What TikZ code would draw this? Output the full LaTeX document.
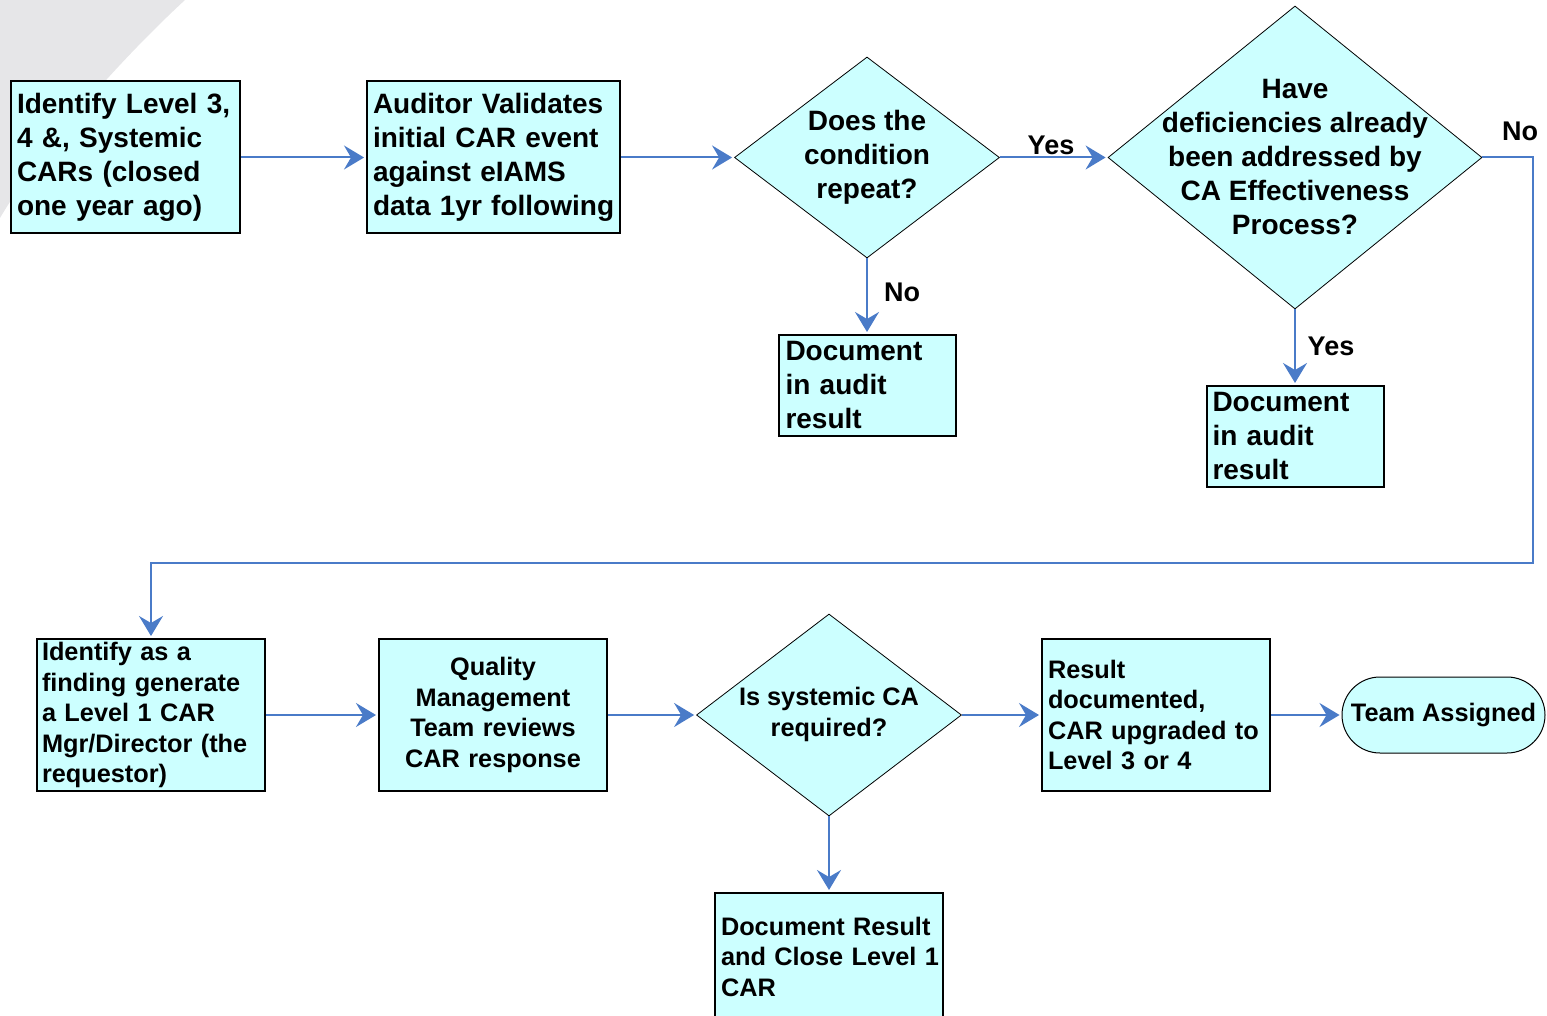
\documentclass[tikz,border=0pt]{standalone}
\usepackage{fontspec}
\setmainfont{Liberation Sans}
\usetikzlibrary{shapes.geometric,arrows.meta}
\definecolor{cyanfill}{RGB}{204,255,255}
\definecolor{linkblue}{RGB}{74,123,200}
\definecolor{bggrey}{RGB}{230,230,232}
\begin{document}
\begin{tikzpicture}[x=1pt,y=-1pt,
  box/.style={draw=black, line width=2pt, fill=cyanfill, inner xsep=6pt, inner ysep=0pt, align=left,
    execute at begin node={\hyphenpenalty=10000\exhyphenpenalty=10000\hbadness=10000\hfuzz=20pt\relax}},
  dia/.style={draw=black, line width=0.8pt, fill=cyanfill, shape=diamond, inner sep=0pt},
  bigtxt/.style={font=\fontsize{28}{34}\selectfont\bfseries},
  smalltxt/.style={font=\fontsize{25.3}{30.5}\selectfont\bfseries},
  lbl/.style={font=\fontsize{27}{32}\selectfont\bfseries, inner sep=0pt},
  arr/.style={draw=linkblue, line width=2pt, -{Stealth[length=20pt,width=24pt,inset=7pt]}, shorten >=2pt}]

\useasboundingbox (0,0) rectangle (1547,1016);
\clip (0,0) rectangle (1547,1016);
\fill[bggrey] (0,0) -- (185,0) .. controls (120,60) and (40,150) .. (0,218) -- cycle;

% top row
\node[box,bigtxt,text width=217pt,minimum height=152pt] (a) at (125.5,157.5)
  {Identify~Level~3,\\4~\&,~Systemic\\CARs~(closed\\one~year~ago)};
\node[box,bigtxt,text width=241pt,minimum height=152pt] (b) at (493.5,157.5)
  {\mbox{Auditor Validates}\\\mbox{initial CAR event}\\\mbox{against eIAMS}\\\mbox{data 1yr following}};
\node[dia,minimum width=265pt,minimum height=201pt] (d1) at (867,157.5) {};
\node[bigtxt,align=center] (d1t) at (867,157) {Does the\\condition\\repeat?};
\node[dia,minimum width=374pt,minimum height=303pt] (d2) at (1295,157.5) {};
\node[bigtxt,align=center] (d2t) at (1295,157) {Have\\deficiencies already\\been addressed by\\CA Effectiveness\\Process?};
\node[box,bigtxt,inner xsep=7pt,text width=163pt,minimum height=101pt] (doc1) at (867,385.5)
  {Document\\in~audit\\result};
\node[box,bigtxt,inner xsep=6pt,text width=165pt,minimum height=101pt] (doc2) at (1295,436.5)
  {Document\\in~audit\\result};

% bottom row
\node[box,smalltxt,inner xsep=5pt,text width=218pt,minimum height=152pt] (c1) at (151,715)
  {Identify~as~a\\finding~generate\\a~Level~1~CAR\\Mgr/Director~(the\\requestor)};
\node[box,smalltxt,align=center,text width=216pt,minimum height=152pt] (q) at (493,715)
  {Quality\\Management\\Team~reviews\\CAR~response};
\node[dia,minimum width=265pt,minimum height=202pt] (d3) at (829,715) {};
\node[smalltxt,align=center] (d3t) at (829,714.5) {Is systemic CA\\required?};
\node[box,smalltxt,text width=216pt,minimum height=152pt] (r) at (1156,715)
  {Result\\documented,\\CAR~upgraded~to\\Level~3~or~4};
\node[draw=black,line width=1pt,fill=cyanfill,rounded corners=38pt,minimum width=203pt,minimum height=76pt,inner sep=0pt,smalltxt] (t) at (1443.5,715) {Team Assigned};
\node[box,smalltxt,text width=216pt,minimum height=127pt] (doc3) at (829,956.5)
  {Document~Result\\and~Close~Level~1\\CAR};

% connectors
\draw[arr] (a) -- (b);
\draw[arr] (b) -- (d1);
\draw[arr] (d1) -- (d2);
\draw[arr] (d1.south) -- (doc1.north);
\draw[arr] (d2.south) -- (doc2.north);
\coordinate (turn) at (1533,563);
\draw[arr] (d2.east) -| (turn) -| (c1.north);
\draw[arr] (c1) -- (q);
\draw[arr] (q) -- (d3);
\draw[arr] (d3) -- (r);
\draw[arr] (r) -- (t);
\draw[arr] (d3.south) -- (doc3.north);

% labels
\node[lbl] (yes1) at (1051,145) {Yes};
\node[lbl] (no1) at (902,292) {No};
\node[lbl] (no2) at (1520,131) {No};
\node[lbl] (yes2) at (1331,346) {Yes};
\end{tikzpicture}
\end{document}
